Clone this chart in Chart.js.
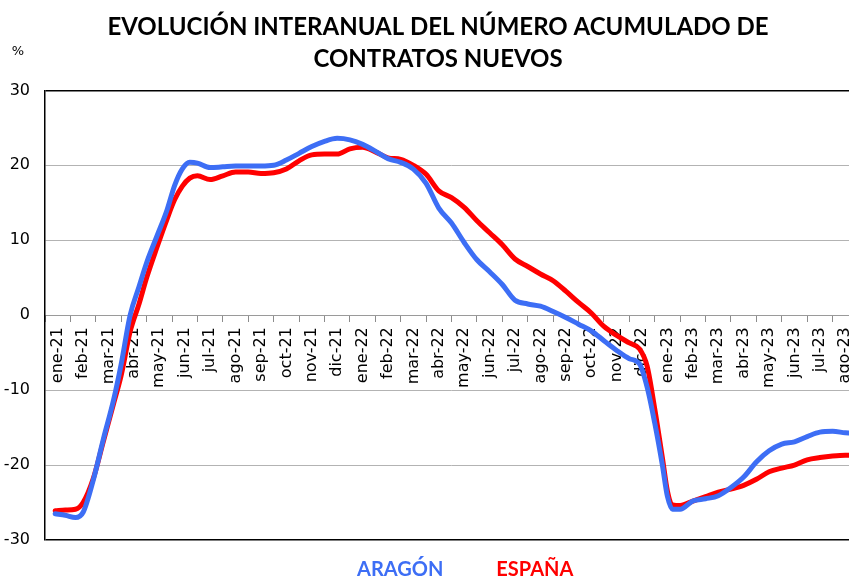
<!DOCTYPE html>
<html>
<head>
<meta charset="utf-8">
<script src="https://cdn.jsdelivr.net/npm/chart.js@4.4.1/dist/chart.umd.min.js"></script>
<style>
  html, body { margin: 0; padding: 0; background: #fff; overflow: hidden; width: 849px; height: 579px; }
  #wrap { width: 876px; height: 579px; }
</style>
</head>
<body>
<div id="wrap"><canvas id="grafico" width="876" height="579"></canvas></div>
<script>
// etiquetas del eje X (un mes por categoría)
const meses = [
  'ene-21', 'feb-21', 'mar-21', 'abr-21', 'may-21', 'jun-21', 'jul-21', 'ago-21', 'sep-21', 'oct-21', 'nov-21', 'dic-21',
  'ene-22', 'feb-22', 'mar-22', 'abr-22', 'may-22', 'jun-22', 'jul-22', 'ago-22', 'sep-22', 'oct-22', 'nov-22', 'dic-22',
  'ene-23', 'feb-23', 'mar-23', 'abr-23', 'may-23', 'jun-23', 'jul-23', 'ago-23'
];

// posición de cada dato, en meses desde ene-21
const posicion = [
  0.4, 0.8, 1.2, 1.5, 1.9, 2.3, 2.7, 3.0, 3.35, 3.7, 4.0, 4.4, 4.8, 5.1, 5.4, 5.7, 6.0, 6.5,
  7.0, 7.5, 8.0, 8.5, 9.0, 9.5, 10.0, 10.5, 11.0, 11.5, 12.0, 12.5, 13.0, 13.5, 14.0, 14.5,
  15.0, 15.5, 16.0, 16.5, 17.0, 17.5, 18.0, 18.5, 19.0, 19.5, 20.0, 20.5, 21.0, 21.5, 22.0,
  22.5, 23.0, 23.4, 23.7, 24.0, 24.3, 24.5, 24.7, 25.0, 25.5, 26.0, 26.5, 27.0, 27.5, 28.0,
  28.5, 29.0, 29.5, 30.0, 30.5, 31.0, 31.5, 32.0
];

// variación interanual (%)
const aragon = [
  -26.5, -26.7, -27.0, -26.3, -22.0, -16.5, -11.3, -6.5, 0.0, 3.8, 7.0, 10.5, 14.0, 17.3, 19.5, 20.4, 20.3, 19.7,
  19.8, 19.9, 19.9, 19.9, 20.0, 20.7, 21.6, 22.5, 23.2, 23.6, 23.4, 22.8, 21.9, 20.9, 20.4, 19.5,
  17.6, 14.3, 12.3, 9.7, 7.4, 5.8, 4.1, 2.0, 1.5, 1.2, 0.5, -0.3, -1.2, -2.1, -3.4,
  -4.7, -5.8, -6.5, -9.6, -14.4, -20.0, -24.2, -25.9, -25.9, -24.8, -24.5, -24.1, -23.0, -21.6, -19.6,
  -18.1, -17.2, -16.9, -16.2, -15.6, -15.5, -15.7, -15.8
];
const espana = [
  -26.1, -26.0, -25.9, -25.0, -21.8, -16.8, -11.8, -8.0, -2.2, 1.5, 5.0, 9.0, 12.8, 15.4, 17.2, 18.3, 18.6, 18.1,
  18.6, 19.1, 19.1, 18.9, 19.0, 19.5, 20.6, 21.4, 21.5, 21.5, 22.2, 22.4, 21.8, 21.0, 20.8, 20.0,
  18.8, 16.6, 15.7, 14.4, 12.6, 11.0, 9.4, 7.5, 6.5, 5.5, 4.6, 3.2, 1.7, 0.3, -1.5,
  -2.7, -3.7, -4.5, -6.8, -12.5, -19.0, -23.5, -25.3, -25.4, -24.8, -24.2, -23.6, -23.2, -22.7, -21.9,
  -20.9, -20.4, -20.0, -19.3, -19.0, -18.8, -18.7, -18.7
];

const AZUL = '#3d6ef5';
const ROJO = '#ff0000';

function puntos(valores) {
  return valores.map((v, i) => ({ x: posicion[i], y: v }));
}

// "%" sobre el eje y leyenda de texto bajo el gráfico
const textosExtra = {
  id: 'textosExtra',
  afterLayout(chart) {
    // el título del original está algo desplazado a la derecha
    const t = chart.titleBlock;
    if (t) { t.left += 9; t.right += 9; }
  },
  afterDraw(chart) {
    const ctx = chart.ctx;
    const area = chart.chartArea;
    ctx.save();
    ctx.fillStyle = '#000';
    ctx.font = '13px "DejaVu Sans"';
    ctx.textAlign = 'center';
    ctx.textBaseline = 'middle';
    ctx.fillText('%', area.left - 27, area.top - 39);

    ctx.font = 'bold 20px Lato';
    ctx.textAlign = 'left';
    let x = area.left + 312;
    chart.data.datasets.forEach(ds => {
      ctx.fillStyle = ds.borderColor;
      ctx.fillText(ds.label, x, area.bottom + 30);
      x += ctx.measureText(ds.label).width + 53;
    });
    ctx.restore();
  }
};

new Chart(document.getElementById('grafico'), {
  type: 'line',
  data: {
    datasets: [
      { label: 'ARAGÓN', data: puntos(aragon), borderColor: AZUL, backgroundColor: AZUL, borderWidth: 5 },
      { label: 'ESPAÑA', data: puntos(espana), borderColor: ROJO, backgroundColor: ROJO, borderWidth: 5 }
    ]
  },
  options: {
    responsive: false,
    animation: false,
    elements: {
      point: { radius: 0 },
      line: { cubicInterpolationMode: 'monotone', borderCapStyle: 'round', borderJoinStyle: 'round' }
    },
    layout: { padding: { left: 0, right: 18, top: 0, bottom: 39 } },
    plugins: {
      legend: { display: false },
      tooltip: { enabled: false },
      title: {
        display: true,
        text: ['EVOLUCIÓN INTERANUAL DEL NÚMERO ACUMULADO DE', 'CONTRATOS NUEVOS'],
        color: '#000',
        font: { family: 'Lato', size: 24, weight: 'bold', lineHeight: 1.3 },
        padding: { top: 12, bottom: 16 }
      }
    },
    scales: {
      x: {
        type: 'linear',
        min: 0,
        max: 32,
        display: false
      },
      xl: {
        type: 'category',
        axis: 'x',
        labels: meses,
        position: { y: 0 },
        offset: true,
        grid: { offset: true, drawOnChartArea: false, drawTicks: true, tickLength: 6, color: '#8c8c8c' },
        border: { display: true, color: '#9a9a9a', width: 1 },
        ticks: {
          autoSkip: false,
          minRotation: 90,
          maxRotation: 90,
          padding: 6,
          color: '#000',
          font: { family: 'DejaVu Sans', size: 16 }
        }
      },
      y: {
        min: -30,
        max: 30,
        afterFit(scale) { scale.width = 45; },
        ticks: {
          stepSize: 10,
          padding: 15,
          color: '#000',
          font: { family: 'DejaVu Sans', size: 16 }
        },
        grid: {
          drawTicks: false,
          color: c => (Math.abs(c.tick.value) === 30 ? '#000' : '#b3b3b3'),
          lineWidth: c => (Math.abs(c.tick.value) === 30 ? 1.5 : 1)
        },
        border: { color: '#000', width: 1.5 }
      }
    }
  },
  plugins: [textosExtra]
});
</script>
</body>
</html>
